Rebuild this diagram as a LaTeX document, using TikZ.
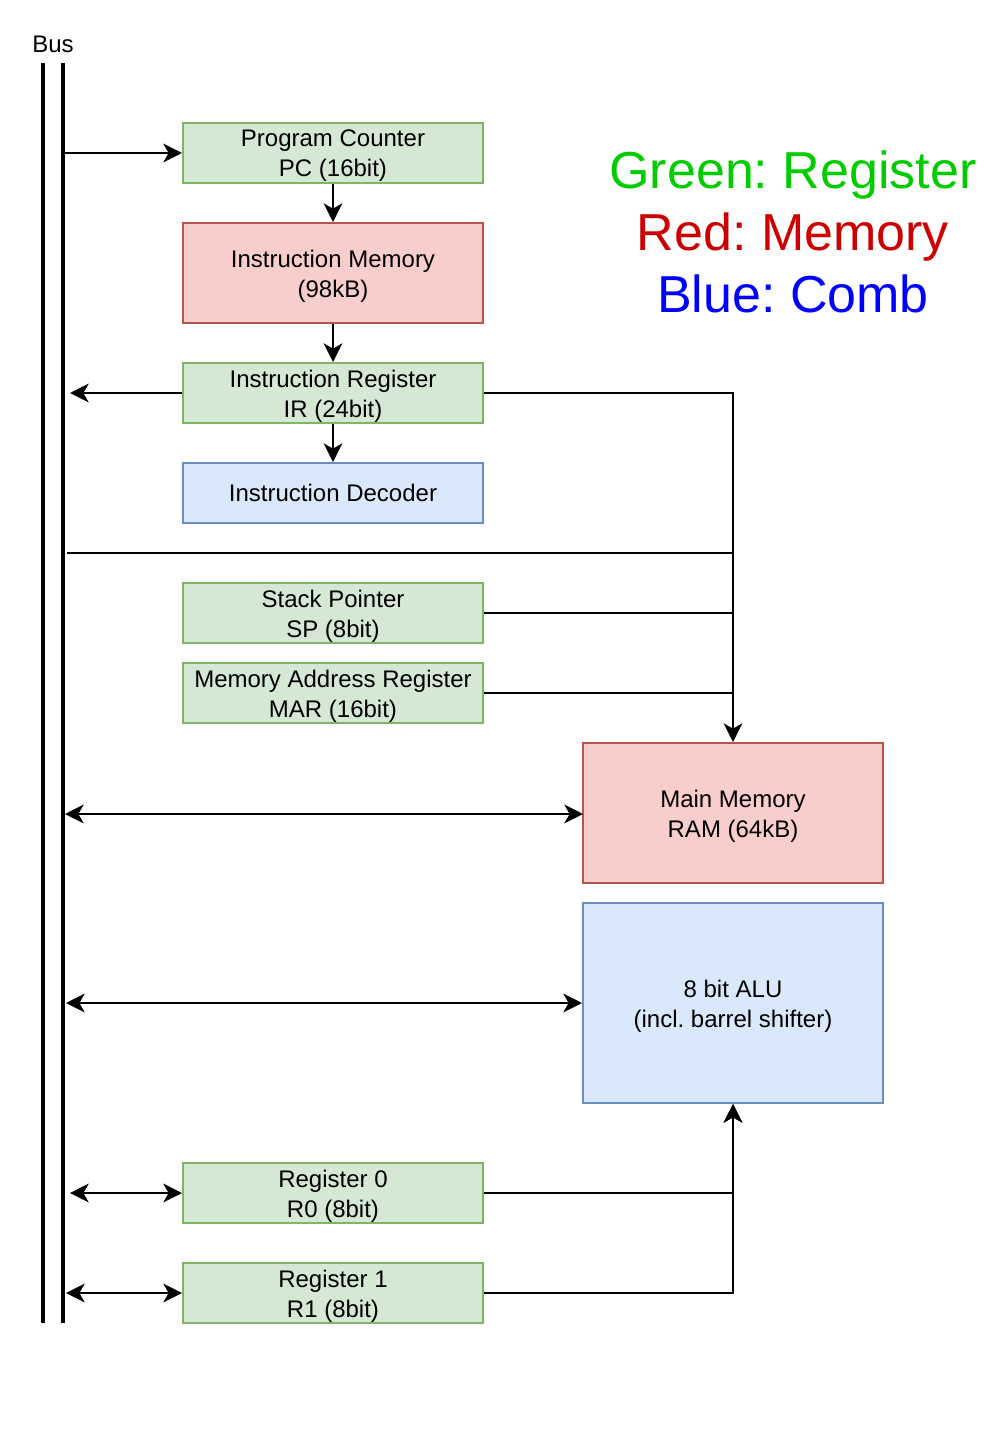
\documentclass[tikz,border=0pt]{standalone}
\usepackage{fontspec}
\setmainfont{Liberation Sans}
\usetikzlibrary{arrows.meta}
\frenchspacing
\definecolor{gfill}{HTML}{D5E8D4}\definecolor{gline}{HTML}{82B366}
\definecolor{rfill}{HTML}{F8CECC}\definecolor{rline}{HTML}{B85450}
\definecolor{bfill}{HTML}{DAE8FC}\definecolor{bline}{HTML}{6C8EBF}
\definecolor{lgreen}{HTML}{00CC00}\definecolor{lred}{HTML}{CC0000}\definecolor{lblue}{HTML}{0000FF}
\tikzset{
  lbl/.style={align=center, font=\fontsize{18}{22.5}\selectfont, inner sep=0pt, yshift=-2.25pt},
  box/.style={draw, line width=1.5pt, inner sep=0pt, minimum width=225pt},
  greg/.style={box, fill=gfill, draw=gline, minimum height=45pt},
  rmem/.style={box, fill=rfill, draw=rline},
  bcomb/.style={box, fill=bfill, draw=bline},
  conn/.style={line width=1.5pt, line join=miter},
  tip/.tip={Stealth[length=14pt,width=14pt,inset=4pt]},
  arr/.style={conn, -tip},
  darr/.style={conn, tip-tip},
  busline/.style={line width=3pt},
}
\begin{document}
\begin{tikzpicture}[x=0.75pt,y=-0.75pt]
\useasboundingbox (0,0) rectangle (1004,1444);
% bus
\coordinate (busAtop) at (43,63); \coordinate (busAbot) at (43,1323);
\coordinate (busBtop) at (63,63); \coordinate (busBbot) at (63,1323);
\draw[busline] (busAtop) -- (busAbot);
\draw[busline] (busBtop) -- (busBbot);
\node[font=\fontsize{18}{22.5}\selectfont] (buslabel) at (53,44) {Bus};
% boxes
\node[greg, label={[lbl]center:{Program Counter\\PC (16bit)}}] (pc) at (333,153) {};
\node[rmem, minimum height=75pt, label={[lbl]center:{Instruction Memory\\(98kB)}}] (im) at (333,273) {};
\node[greg, label={[lbl]center:{Instruction Register\\IR (24bit)}}] (ir) at (333,393) {};
\node[bcomb, minimum height=45pt, label={[lbl, yshift=2.25pt]center:{Instruction Decoder}}] (id) at (333,493) {};
\node[greg, label={[lbl]center:{Stack Pointer\\SP (8bit)}}] (sp) at (333,613) {};
\node[greg, label={[lbl]center:{Memory Address Register\\MAR (16bit)}}] (mar) at (333,693) {};
\node[rmem, minimum height=105pt, label={[lbl]center:{Main Memory\\RAM (64kB)}}] (mm) at (733,813) {};
\node[bcomb, minimum height=150pt, label={[lbl]center:{8 bit ALU\\(incl. barrel shifter)}}] (alu) at (733,1003) {};
\node[greg, label={[lbl]center:{Register 0\\R0 (8bit)}}] (r0) at (333,1193) {};
\node[greg, label={[lbl]center:{Register 1\\R1 (8bit)}}] (r1) at (333,1293) {};
% legend
\node[align=center, font=\fontsize{39}{46.5}\selectfont] (legend) at (793,232)
  {\textcolor{lgreen}{Green: Register}\\\textcolor{lred}{Red: Memory}\\\textcolor{lblue}{Blue: Comb}};
% bus tap coordinates
\coordinate (bpc) at (63,153);
\coordinate (bir) at (70,393);
\coordinate (bline) at (67,553);
\coordinate (bmm) at (65,814);
\coordinate (mmw) at (583,814);
\coordinate (balu) at (66,1003);
\coordinate (br0) at (70,1193);
\coordinate (br1) at (66,1293);
\coordinate (jn) at (733,553);
% connectors
\draw[arr] (bpc) -- (pc.west);
\draw[arr] (pc.south) -- (im.north);
\draw[arr] (im.south) -- (ir.north);
\draw[arr] (ir.west) -- (bir);
\draw[arr] (ir.south) -- (id.north);
\draw[arr] (ir.east) -| (mm.north);
\draw[conn] (bline) -- (jn);
\draw[conn] (sp.east) -- (sp.east -| mm.north);
\draw[conn] (mar.east) -- (mar.east -| mm.north);
\draw[darr] (bmm) -- (mmw);
\draw[darr] (balu) -- (alu.west);
\draw[darr] (br0) -- (r0.west);
\draw[darr] (br1) -- (r1.west);
\draw[arr] (r0.east) -| (alu.south);
\draw[arr] (r1.east) -| (alu.south);
\end{tikzpicture}
\end{document}
